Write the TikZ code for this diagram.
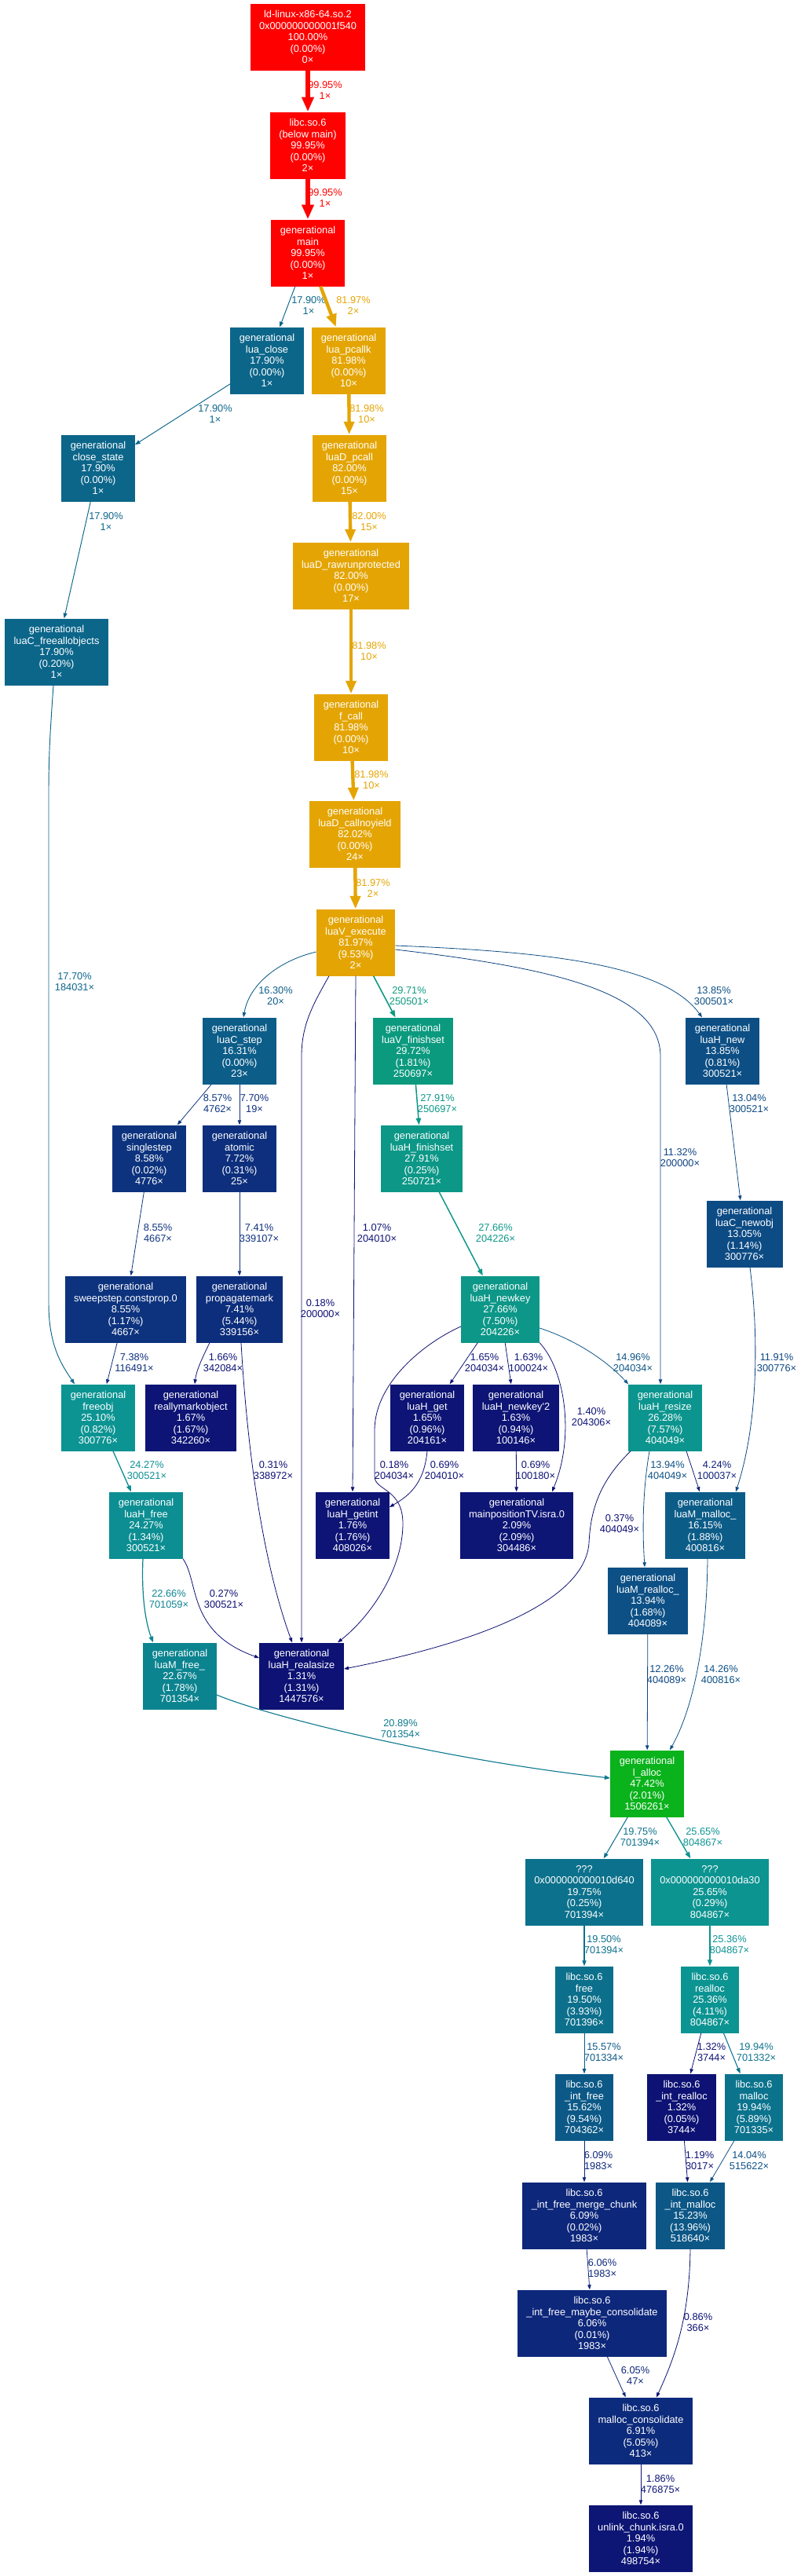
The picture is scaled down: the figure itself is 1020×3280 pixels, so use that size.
\documentclass[tikz,border=0pt]{standalone}
\usepackage{fontspec}
\setmainfont{Liberation Sans}
\usetikzlibrary{arrows.meta}

\newcommand{\fnsize}{\fontsize{12.8}{14.5}\selectfont}
\newcommand{\heat}[2]{%
  \pgfmathsetmacro{\hW}{#2/100}%
  \pgfmathsetmacro{\hH}{(1-\hW)*2/3}%
  \pgfmathsetmacro{\hS}{0.8+0.2*\hW}%
  \pgfmathsetmacro{\hL}{0.25+0.25*\hW}%
  \pgfmathsetmacro{\hMb}{\hL*(1+\hS)}%
  \pgfmathsetmacro{\hMa}{2*\hL-\hMb}%
  \pgfmathsetmacro{\hHr}{\hH+1/3}%
  \pgfmathsetmacro{\hHb}{\hH-1/3}%
  \pgfmathsetmacro{\hR}{ifthenelse(\hHr<0.5,\hMb,ifthenelse(\hHr<2/3,\hMa+(\hMb-\hMa)*(2/3-\hHr)*6,\hMa))}%
  \pgfmathsetmacro{\hG}{ifthenelse(\hH<1/6,\hMa+(\hMb-\hMa)*\hH*6,ifthenelse(\hH<0.5,\hMb,ifthenelse(\hH<2/3,\hMa+(\hMb-\hMa)*(2/3-\hH)*6,\hMa)))}%
  \pgfmathsetmacro{\hB}{ifthenelse(\hHb<0,\hMa,ifthenelse(\hHb<1/6,\hMa+(\hMb-\hMa)*\hHb*6,\hMb))}%
  \pgfmathsetmacro{\hR}{min(max(\hR,0),1)}%
  \pgfmathsetmacro{\hG}{min(max(\hG,0),1)}%
  \pgfmathsetmacro{\hB}{min(max(\hB,0),1)}%
  \edef\hTmp{\noexpand\xglobal\noexpand\definecolor{#1}{rgb}{\hR,\hG,\hB}}\hTmp
}

\begin{document}
\begin{tikzpicture}[x=1pt, y=-1pt,
  fnbox/.style={rectangle, text=white, align=center, minimum height=85pt, inner xsep=11.5pt, inner ysep=0pt, font=\fnsize},
  func/.code={\heat{fncol}{#1}\pgfkeysalso{fnbox, fill=fncol}},
  callarrow/.code={\heat{callcol}{#1}%
    \pgfmathsetmacro{\hPen}{1.333*max(4*#1/100,0.6)}%
    \pgfmathsetmacro{\hTipA}{6.667*sqrt(max(4*#1/100,0.6))}%
    \pgfmathsetmacro{\hTipL}{\hTipA+\hPen}%
    \pgfmathsetmacro{\hTipW}{0.7*\hTipA+\hPen}%
    \edef\hKeys{color=callcol, line width=\hPen pt, -{Triangle[length=\hTipL pt, width=\hTipW pt]}}%
    \expandafter\pgfkeysalso\expandafter{\hKeys}},
  lbl/.style={align=center, inner sep=0pt, font=\fnsize}]

  \useasboundingbox (0,0) rectangle (1020,3280);

  \node[func=100.00] (ld) at (392,47) {ld-linux-x86-64.so.2\\0x000000000001f540\\100.00\%\\(0.00\%)\\0×};
  \node[func=99.95] (libcmain) at (392,185) {libc.so.6\\(below main)\\99.95\%\\(0.00\%)\\2×};
  \node[func=99.95] (main) at (392,322) {generational\\main\\99.95\%\\(0.00\%)\\1×};
  \node[func=17.90] (luaclose) at (340,459) {generational\\lua\_close\\17.90\%\\(0.00\%)\\1×};
  \node[func=81.98] (pcallk) at (444,459) {generational\\lua\_pcallk\\81.98\%\\(0.00\%)\\10×};
  \node[func=17.90] (closestate) at (125,596) {generational\\close\_state\\17.90\%\\(0.00\%)\\1×};
  \node[func=82.00] (dpcall) at (445,596) {generational\\luaD\_pcall\\82.00\%\\(0.00\%)\\15×};
  \node[func=82.00] (rawrun) at (447,733) {generational\\luaD\_rawrunprotected\\82.00\%\\(0.00\%)\\17×};
  \node[func=17.90] (freeall) at (72,830) {generational\\luaC\_freeallobjects\\17.90\%\\(0.20\%)\\1×};
  \node[func=81.98] (fcall) at (447,926) {generational\\f\_call\\81.98\%\\(0.00\%)\\10×};
  \node[func=82.02] (callnoyield) at (452,1062) {generational\\luaD\_callnoyield\\82.02\%\\(0.00\%)\\24×};
  \node[func=81.97] (vexec) at (453,1200) {generational\\luaV\_execute\\81.97\%\\(9.53\%)\\2×};
  \node[func=16.31] (cstep) at (305,1338) {generational\\luaC\_step\\16.31\%\\(0.00\%)\\23×};
  \node[func=29.72] (finishset) at (526,1338) {generational\\luaV\_finishset\\29.72\%\\(1.81\%)\\250697×};
  \node[func=13.85] (hnew) at (920,1338) {generational\\luaH\_new\\13.85\%\\(0.81\%)\\300521×};
  \node[func=8.58] (singlestep) at (190,1475) {generational\\singlestep\\8.58\%\\(0.02\%)\\4776×};
  \node[func=7.72] (atomic) at (305,1475) {generational\\atomic\\7.72\%\\(0.31\%)\\25×};
  \node[func=27.91] (hfinishset) at (537,1475) {generational\\luaH\_finishset\\27.91\%\\(0.25\%)\\250721×};
  \node[func=13.05] (newobj) at (948,1571) {generational\\luaC\_newobj\\13.05\%\\(1.14\%)\\300776×};
  \node[func=8.55] (sweepstep) at (160,1667) {generational\\sweepstep.constprop.0\\8.55\%\\(1.17\%)\\4667×};
  \node[func=7.41] (propmark) at (305,1667) {generational\\propagatemark\\7.41\%\\(5.44\%)\\339156×};
  \node[func=27.66] (newkey) at (637,1667) {generational\\luaH\_newkey\\27.66\%\\(7.50\%)\\204226×};
  \node[func=25.10] (freeobj) at (125,1805) {generational\\freeobj\\25.10\%\\(0.82\%)\\300776×};
  \node[func=1.67] (reallymark) at (243,1805) {generational\\reallymarkobject\\1.67\%\\(1.67\%)\\342260×};
  \node[func=1.65] (hget) at (544,1805) {generational\\luaH\_get\\1.65\%\\(0.96\%)\\204161×};
  \node[func=1.63] (newkeytwo) at (657,1805) {generational\\luaH\_newkey\textquotesingle 2\\1.63\%\\(0.94\%)\\100146×};
  \node[func=26.28] (resize) at (847,1805) {generational\\luaH\_resize\\26.28\%\\(7.57\%)\\404049×};
  \node[func=24.27] (hfree) at (186,1942) {generational\\luaH\_free\\24.27\%\\(1.34\%)\\300521×};
  \node[func=1.76] (getint) at (449,1942) {generational\\luaH\_getint\\1.76\%\\(1.76\%)\\408026×};
  \node[func=2.09] (mainpos) at (658,1942) {generational\\mainpositionTV.isra.0\\2.09\%\\(2.09\%)\\304486×};
  \node[func=16.15] (mmalloc) at (898,1942) {generational\\luaM\_malloc\_\\16.15\%\\(1.88\%)\\400816×};
  \node[func=13.94] (mrealloc) at (825,2038) {generational\\luaM\_realloc\_\\13.94\%\\(1.68\%)\\404089×};
  \node[func=22.67] (mfree) at (229,2134) {generational\\luaM\_free\_\\22.67\%\\(1.78\%)\\701354×};
  \node[func=1.31] (realasize) at (384,2134) {generational\\luaH\_realasize\\1.31\%\\(1.31\%)\\1447576×};
  \node[func=47.42] (lalloc) at (824,2271) {generational\\l\_alloc\\47.42\%\\(2.01\%)\\1506261×};
  \node[func=19.75] (unka) at (744,2409) {???\\0x000000000010d640\\19.75\%\\(0.25\%)\\701394×};
  \node[func=25.65] (unkb) at (904,2409) {???\\0x000000000010da30\\25.65\%\\(0.29\%)\\804867×};
  \node[func=19.50] (cfree) at (744,2546) {libc.so.6\\free\\19.50\%\\(3.93\%)\\701396×};
  \node[func=25.36] (crealloc) at (904,2546) {libc.so.6\\realloc\\25.36\%\\(4.11\%)\\804867×};
  \node[func=15.62] (intfree) at (744,2683) {libc.so.6\\\_int\_free\\15.62\%\\(9.54\%)\\704362×};
  \node[func=1.32] (intrealloc) at (868,2683) {libc.so.6\\\_int\_realloc\\1.32\%\\(0.05\%)\\3744×};
  \node[func=19.94] (cmalloc) at (960,2683) {libc.so.6\\malloc\\19.94\%\\(5.89\%)\\701335×};
  \node[func=6.09] (mergechunk) at (744,2821) {libc.so.6\\\_int\_free\_merge\_chunk\\6.09\%\\(0.02\%)\\1983×};
  \node[func=15.23] (intmalloc) at (879,2821) {libc.so.6\\\_int\_malloc\\15.23\%\\(13.96\%)\\518640×};
  \node[func=6.06] (maybecons) at (754,2958) {libc.so.6\\\_int\_free\_maybe\_consolidate\\6.06\%\\(0.01\%)\\1983×};
  \node[func=6.91] (malloccons) at (816,3095) {libc.so.6\\malloc\_consolidate\\6.91\%\\(5.05\%)\\413×};
  \node[func=1.94] (unlink) at (816,3232) {libc.so.6\\unlink\_chunk.isra.0\\1.94\%\\(1.94\%)\\498754×};

  \draw[callarrow=99.95] (ld) -- (libcmain) node[lbl] at (414,115) {99.95\%\\1×};
  \draw[callarrow=99.95] (libcmain) -- (main) node[lbl] at (414,252) {99.95\%\\1×};
  \draw[callarrow=17.90] (main) -- (luaclose) node[lbl] at (393,389) {17.90\%\\1×};
  \draw[callarrow=81.97] (main) -- (pcallk) node[lbl] at (450,389) {81.97\%\\2×};
  \draw[callarrow=17.90] (luaclose) -- (closestate) node[lbl] at (274,527) {17.90\%\\1×};
  \draw[callarrow=81.98] (pcallk) -- (dpcall) node[lbl] at (467,527) {81.98\%\\10×};
  \draw[callarrow=17.90] (closestate) -- (freeall) node[lbl] at (135,664) {17.90\%\\1×};
  \draw[callarrow=82.00] (dpcall) -- (rawrun) node[lbl] at (470,664) {82.00\%\\15×};
  \draw[callarrow=81.98] (rawrun) -- (fcall) node[lbl] at (470,829) {81.98\%\\10×};
  \draw[callarrow=81.98] (fcall) -- (callnoyield) node[lbl] at (473,993) {81.98\%\\10×};
  \draw[callarrow=81.97] (callnoyield) -- (vexec) node[lbl] at (475,1131) {81.97\%\\2×};
  \draw[callarrow=17.70] ([xshift=-4pt]freeall.south) .. controls (64,930) and (62,960) .. (62,1010) -- (62,1660) .. controls (62,1715) and (80,1740) .. ([xshift=-30pt]freeobj.north) node[lbl] at (95,1250) {17.70\%\\184031×};
  \draw[callarrow=16.30] ([yshift=-12pt]vexec.west) .. controls (360,1222) and (318,1250) .. ([xshift=5pt]cstep.north) node[lbl] at (351,1268) {16.30\%\\20×};
  \draw[callarrow=29.71] (vexec) -- (finishset) node[lbl] at (521,1268) {29.71\%\\250501×};
  \draw[callarrow=0.18] ([xshift=-34pt]vexec.south) .. controls (398,1280) and (384,1305) .. (384,1345) -- (realasize.north) node[lbl] at (408,1666) {0.18\%\\200000×};
  \draw[callarrow=1.07] (vexec.south) -- (getint.north) node[lbl] at (480,1570) {1.07\%\\204010×};
  \draw[callarrow=13.85] ([yshift=-4pt]vexec.east) .. controls (700,1212) and (845,1228) .. ([xshift=-26pt]hnew.north) node[lbl] at (909,1268) {13.85\%\\300501×};
  \draw[callarrow=11.32] ([yshift=-9pt]vexec.east) .. controls (700,1232) and (841,1262) .. (841,1345) -- ([xshift=-6pt]resize.north) node[lbl] at (866,1474) {11.32\%\\200000×};
  \draw[callarrow=8.57] (cstep) -- (singlestep) node[lbl] at (277,1405) {8.57\%\\4762×};
  \draw[callarrow=7.70] (cstep) -- (atomic) node[lbl] at (324,1405) {7.70\%\\19×};
  \draw[callarrow=27.91] (finishset) -- (hfinishset) node[lbl] at (557,1405) {27.91\%\\250697×};
  \draw[callarrow=13.04] (hnew) -- (newobj) node[lbl] at (954,1405) {13.04\%\\300521×};
  \draw[callarrow=8.55] (singlestep) -- (sweepstep) node[lbl] at (201,1570) {8.55\%\\4667×};
  \draw[callarrow=7.41] (atomic) -- (propmark) node[lbl] at (330,1570) {7.41\%\\339107×};
  \draw[callarrow=27.66] (hfinishset) -- (newkey) node[lbl] at (631,1570) {27.66\%\\204226×};
  \draw[callarrow=11.91] ([xshift=7pt]newobj.south) .. controls (966,1700) and (966,1810) .. ([xshift=39pt]mmalloc.north) node[lbl] at (989,1735) {11.91\%\\300776×};
  \draw[callarrow=7.38] (sweepstep) -- (freeobj) node[lbl] at (171,1735) {7.38\%\\116491×};
  \draw[callarrow=1.66] ([xshift=-38pt]propmark.south) .. controls (258,1728) and (250,1745) .. ([xshift=5pt]reallymark.north) node[lbl] at (284,1735) {1.66\%\\342084×};
  \draw[callarrow=0.31] ([xshift=2pt]propmark.south) .. controls (315,1850) and (335,1990) .. ([xshift=-12pt]realasize.north) node[lbl] at (348,1872) {0.31\%\\338972×};
  \draw[callarrow=1.65] (newkey) -- (hget) node[lbl] at (617,1735) {1.65\%\\204034×};
  \draw[callarrow=1.63] (newkey) -- (newkeytwo) node[lbl] at (673,1735) {1.63\%\\100024×};
  \draw[callarrow=1.40] (newkey.south east) .. controls (720,1745) and (732,1830) .. ([xshift=45pt]mainpos.north) node[lbl] at (753,1804) {1.40\%\\204306×};
  \draw[callarrow=14.96] ([yshift=-24pt]newkey.east) .. controls (730,1705) and (770,1730) .. (resize.north west) node[lbl] at (806,1735) {14.96\%\\204034×};
  \draw[callarrow=0.18] ([yshift=-22pt]newkey.west) .. controls (540,1710) and (478,1760) .. (477,1820) -- (477,1880) .. controls (477,1898) and (513,1895) .. (513,1940) .. controls (513,2000) and (470,2060) .. ([xshift=46pt]realasize.north) node[lbl] at (502,1872) {0.18\%\\204034×};
  \draw[callarrow=24.27] (freeobj) -- (hfree) node[lbl] at (187,1872) {24.27\%\\300521×};
  \draw[callarrow=0.69] (hget.south) .. controls (540,1890) and (520,1905) .. ([yshift=23pt]getint.east) node[lbl] at (566,1872) {0.69\%\\204010×};
  \draw[callarrow=0.69] (newkeytwo) -- (mainpos) node[lbl] at (682,1872) {0.69\%\\100180×};
  \draw[callarrow=0.37] ([xshift=-44pt]resize.south) .. controls (765,1885) and (752,1920) .. (750,1965) .. controls (745,2030) and (640,2085) .. ([yshift=9pt]realasize.east) node[lbl] at (789,1940) {0.37\%\\404049×};
  \draw[callarrow=13.94] ([xshift=-20pt]resize.south) .. controls (818,1900) and (818,1950) .. ([xshift=-4pt]mrealloc.north) node[lbl] at (850,1872) {13.94\%\\404049×};
  \draw[callarrow=4.24] ([xshift=27pt]resize.south) -- ([xshift=-7pt]mmalloc.north) node[lbl] at (913,1872) {4.24\%\\100037×};
  \draw[callarrow=22.66] ([xshift=-4pt]hfree.south) .. controls (180,2030) and (185,2065) .. ([xshift=-34pt]mfree.north) node[lbl] at (215,2036) {22.66\%\\701059×};
  \draw[callarrow=0.27] (hfree.south east) .. controls (254,2015) and (238,2078) .. ([yshift=23pt]realasize.west) node[lbl] at (285,2036) {0.27\%\\300521×};
  \draw[callarrow=20.89] ([yshift=-24pt]mfree.east) .. controls (340,2185) and (560,2240) .. ([yshift=7pt]lalloc.west) node[lbl] at (510,2201) {20.89\%\\701354×};
  \draw[callarrow=12.26] (mrealloc) -- (lalloc) node[lbl] at (849,2132) {12.26\%\\404089×};
  \draw[callarrow=14.26] ([xshift=3pt]mmalloc.south) .. controls (900,2100) and (880,2180) .. ([xshift=29pt]lalloc.north) node[lbl] at (918,2132) {14.26\%\\400816×};
  \draw[callarrow=19.75] (lalloc) -- (unka) node[lbl] at (815,2339) {19.75\%\\701394×};
  \draw[callarrow=25.65] (lalloc) -- (unkb) node[lbl] at (895,2339) {25.65\%\\804867×};
  \draw[callarrow=19.50] (unka) -- (cfree) node[lbl] at (769,2476) {19.50\%\\701394×};
  \draw[callarrow=25.36] (unkb) -- (crealloc) node[lbl] at (929,2476) {25.36\%\\804867×};
  \draw[callarrow=15.57] (cfree) -- (intfree) node[lbl] at (769,2613) {15.57\%\\701334×};
  \draw[callarrow=1.32] (crealloc) -- (intrealloc) node[lbl] at (906,2613) {1.32\%\\3744×};
  \draw[callarrow=19.94] (crealloc) -- (cmalloc) node[lbl] at (963,2613) {19.94\%\\701332×};
  \draw[callarrow=6.09] (intfree) -- (mergechunk) node[lbl] at (762,2751) {6.09\%\\1983×};
  \draw[callarrow=1.19] (intrealloc) -- (intmalloc) node[lbl] at (891,2751) {1.19\%\\3017×};
  \draw[callarrow=14.04] (cmalloc) -- (intmalloc) node[lbl] at (954,2751) {14.04\%\\515622×};
  \draw[callarrow=6.06] (mergechunk) -- (maybecons) node[lbl] at (767,2888) {6.06\%\\1983×};
  \draw[callarrow=0.86] (intmalloc.south) .. controls (878,2950) and (860,3000) .. ([xshift=20pt]malloccons.north) node[lbl] at (889,2957) {0.86\%\\366×};
  \draw[callarrow=6.05] (maybecons) -- (malloccons) node[lbl] at (809,3025) {6.05\%\\47×};
  \draw[callarrow=1.86] (malloccons) -- (unlink) node[lbl] at (841,3163) {1.86\%\\476875×};
\end{tikzpicture}
\end{document}
